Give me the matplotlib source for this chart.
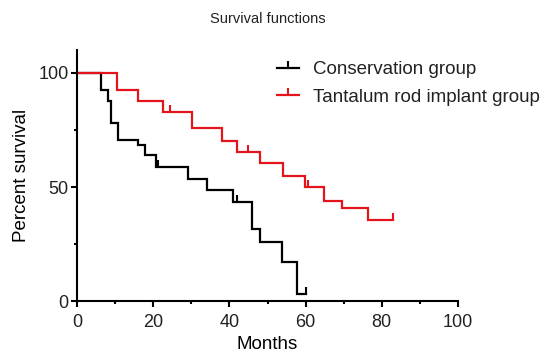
import matplotlib.pyplot as plt
import numpy as np
from matplotlib.lines import Line2D

plt.rcParams['font.family'] = ['Liberation Sans', 'DejaVu Sans']
plt.rcParams['text.color'] = '#222222'
plt.rcParams['xtick.labelcolor'] = '#222222'
plt.rcParams['ytick.labelcolor'] = '#222222'

# Kaplan-Meier steps (months, percent survival)
cons_t = [0, 6.3, 8.2, 8.9, 10.8, 16.1, 17.8, 20.6, 29.1, 34.1, 41, 45.8, 48, 53.8, 57.8]
cons_s = [100, 92.7, 87.6, 78, 70.8, 68.3, 63.9, 58.6, 53.6, 48.5, 43.6, 31.5, 26, 17.2, 3]
cons_end = 60
cons_cens_t = [21.3, 42, 60]
cons_cens_s = [58.6, 43.6, 3]

tant_t = [0, 10.4, 16.1, 22.5, 30.2, 38, 42, 48, 54, 59.8, 64.7, 69.6, 76.5]
tant_s = [100, 92.7, 87.6, 83, 75.7, 70.2, 65.2, 60.4, 54.8, 49.9, 44, 40.7, 35.5]
tant_end = 83
tant_cens_t = [24.3, 45, 60.7, 83]
tant_cens_s = [83, 65.2, 49.9, 35.5]

labels = ['Conservation group', 'Tantalum rod implant group']
colors = ['black', '#e3141b']

fig = plt.figure(figsize=(5.47, 3.61), dpi=100)
ax = fig.add_axes([0.1408, 0.166, 0.6965, 0.695])

groups = [(cons_t, cons_s, cons_end, cons_cens_t, cons_cens_s),
          (tant_t, tant_s, tant_end, tant_cens_t, tant_cens_s)]
for (t, s, end, ct, cs), c in zip(groups, colors):
    ax.step(np.append(t, end), np.append(s, s[-1]), where='post',
            color=c, lw=1.6, solid_joinstyle='miter')
    ax.plot(ct, cs, ls='none', marker=2, ms=5, mew=1.5, color=c)

ax.set_xlim(0, 100)
ax.set_ylim(0, 110)
ax.set_xticks([0, 20, 40, 60, 80, 100])
ax.set_xticks([10, 30, 50, 70, 90], minor=True)
ax.set_yticks([0, 50, 100])
ax.set_yticks([25, 75], minor=True)
for side in ['top', 'right']:
    ax.spines[side].set_visible(False)
for side in ['left', 'bottom']:
    ax.spines[side].set_linewidth(1.5)
ax.tick_params(which='major', length=4, width=1.5, labelsize=13)
ax.tick_params(axis='x', which='major', pad=5)
ax.tick_params(axis='y', which='major', pad=2)
ax.tick_params(which='minor', length=2.5, width=1.5)

ax.set_xlabel('Months', fontsize=13.5, labelpad=4)
ax.set_ylabel('Percent survival', fontsize=13.5, labelpad=6)
fig.text(0.49, 0.948, 'Survival functions', ha='center', va='center', fontsize=10.5)

handles = [Line2D([], [], color=c, lw=1.6, marker=2, ms=5, mew=1.5) for c in colors]
ax.legend(handles, labels, loc='upper left', bbox_to_anchor=(0.506, 0.986),
          frameon=False, fontsize=13.5, handlelength=1.15, handletextpad=0.75,
          labelspacing=0.55, numpoints=1, borderaxespad=0)

fig.savefig('out.png', dpi=100)
